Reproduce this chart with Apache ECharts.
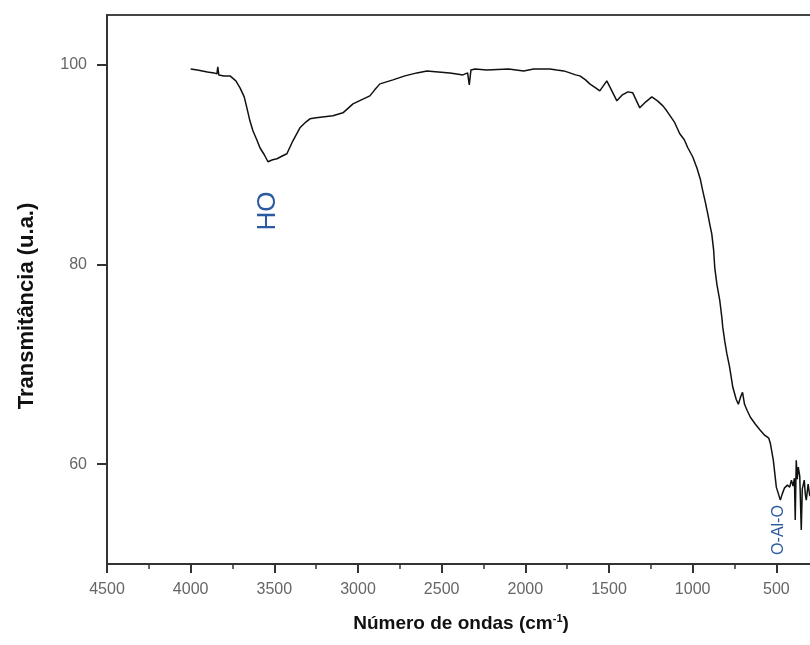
<!DOCTYPE html>
<html><head><meta charset="utf-8">
<script src="https://cdn.jsdelivr.net/npm/echarts@6/dist/echarts.min.js"></script>
<style>html,body{margin:0;padding:0;background:#fff}#c{width:810px;height:645px}</style>
</head><body><div id="c"></div>
<script>
const wavenumber = [4000,3960,3900,3860,3843,3838,3832,3800,3765,3730,3705,3680,3664,3646,3628,3605,3586,3560,3538,3510,3484,3450,3425,3389,3347,3310,3287,3250,3200,3150,3090,3030,2980,2929,2900,2869,2830,2791,2720,2648,2588,2520,2451,2410,2373,2345,2335,2325,2300,2230,2100,2010,1950,1853,1812,1770,1734,1700,1674,1640,1615,1580,1555,1513,1480,1453,1420,1387,1358,1316,1280,1244,1210,1178,1155,1110,1077,1050,1029,1000,975,955,940,925,910,895,886,875,868,855,838,825,820,808,796,780,760,740,727,712,702,690,675,655,625,596,570,545,536,518,500,476,465,452,434,420,410,400,392,387,381,375,369,360,351,345,333,327,321,310,300,290];
const transmittance = [99.6,99.5,99.3,99.2,99.1,99.8,99.0,98.9,98.9,98.4,97.7,96.8,95.7,94.4,93.4,92.5,91.7,91.0,90.3,90.5,90.6,90.9,91.1,92.4,93.7,94.3,94.6,94.7,94.8,94.9,95.2,96.1,96.5,96.9,97.5,98.1,98.3,98.5,98.9,99.2,99.4,99.3,99.2,99.1,99.0,99.2,98.0,99.5,99.6,99.5,99.6,99.4,99.6,99.6,99.5,99.4,99.2,99.0,98.9,98.5,98.1,97.7,97.4,98.4,97.3,96.4,97.0,97.3,97.2,95.7,96.3,96.8,96.4,95.9,95.4,94.3,93.1,92.5,91.7,90.8,89.7,88.6,87.4,86.3,85.1,83.8,83.1,81.5,79.7,78.0,76.4,74.6,73.7,72.3,71.1,69.8,67.7,66.5,66.0,66.8,67.2,66.0,65.4,64.7,64.0,63.4,62.9,62.6,62.1,60.4,57.7,56.4,57.0,57.6,57.9,57.7,58.4,57.8,58.6,54.4,60.4,58.5,59.7,58.8,53.4,57.5,58.4,57.0,56.4,58.0,56.8,57.5];
const xTickLabels = [4500,4000,3500,3000,2500,2000,1500,1000,500];
const yTickLabels = [60,80,100];
const yMinorTicks = [70,90];
const yTitle = 'Transmitância (u.a.)';
const xTitle = 'Número de ondas (cm{sup|-1})';
const bandLabels = ['HO','O-Al-O'];

const FONT = '"Liberation Sans", Arial, sans-serif';
const chart = echarts.init(document.getElementById('c'), null, {renderer:'canvas'});
const axisCol = '#333';
const plain = v => String(v);
const option = {
  animation: false,
  backgroundColor: '#fff',
  grid: {left:107, top:15, width:753, height:549, show:true, borderColor:'#444', borderWidth:2, containLabel:false, outerBoundsMode:'none'},
  xAxis: {
    type:'value', inverse:true, min:0, max:4500, interval:500,
    axisLine:{show:true, onZero:false, lineStyle:{color:axisCol, width:2}},
    axisTick:{show:true, inside:false, length:9, lineStyle:{color:axisCol, width:2}},
    minorTick:{show:true, splitNumber:2, length:5, lineStyle:{color:axisCol, width:1.5}},
    axisLabel:{customValues:xTickLabels, formatter:plain, margin:18, fontSize:16, color:'#666', fontFamily:FONT},
    splitLine:{show:false}, minorSplitLine:{show:false}
  },
  yAxis: [{
    type:'value', min:50, max:105,
    axisLine:{show:true, onZero:false, lineStyle:{color:axisCol, width:2}},
    axisTick:{show:true, inside:false, customValues:yTickLabels, length:10, lineStyle:{color:axisCol, width:2}},
    axisLabel:{customValues:yTickLabels, formatter:plain, margin:20, fontSize:16, color:'#666', fontFamily:FONT},
    splitLine:{show:false}
  },{
    type:'value', min:50, max:105, position:'left',
    axisLine:{show:false},
    axisTick:{show:true, inside:false, customValues:yMinorTicks, length:5, lineStyle:{color:axisCol, width:1.5}},
    axisLabel:{show:false},
    splitLine:{show:false}
  }],
  series: [{
    type:'line', xAxisIndex:0, yAxisIndex:0, symbol:'none', showSymbol:false,
    data: wavenumber.map((w,i)=>[w, transmittance[i]]),
    lineStyle:{color:'#111', width:1.5}
  }],
  graphic: [
    {type:'text', x:27, y:306, rotation:Math.PI/2,
     style:{text:yTitle, fontFamily:FONT, fontWeight:'bold', fontSize:22, fill:'#111', align:'center', verticalAlign:'middle'}},
    {type:'text', x:461, y:624,
     style:{text:xTitle, fontFamily:FONT, fontWeight:'bold', fontSize:19, lineHeight:22, fill:'#111', align:'center', verticalAlign:'middle',
       rich:{sup:{fontFamily:FONT, fontWeight:'bold', fontSize:11, verticalAlign:'top', lineHeight:22, fill:'#111'}}}},
    {type:'text', x:268, y:211, rotation:Math.PI/2,
     style:{text:bandLabels[0], fontFamily:FONT, fontSize:26, fill:'#2c5aa0', align:'center', verticalAlign:'middle'}},
    {type:'text', x:779, y:530, rotation:Math.PI/2,
     style:{text:bandLabels[1], fontFamily:FONT, fontSize:16, fill:'#2c5aa0', align:'center', verticalAlign:'middle'}}
  ]
};
chart.setOption(option);
</script>
</body></html>
